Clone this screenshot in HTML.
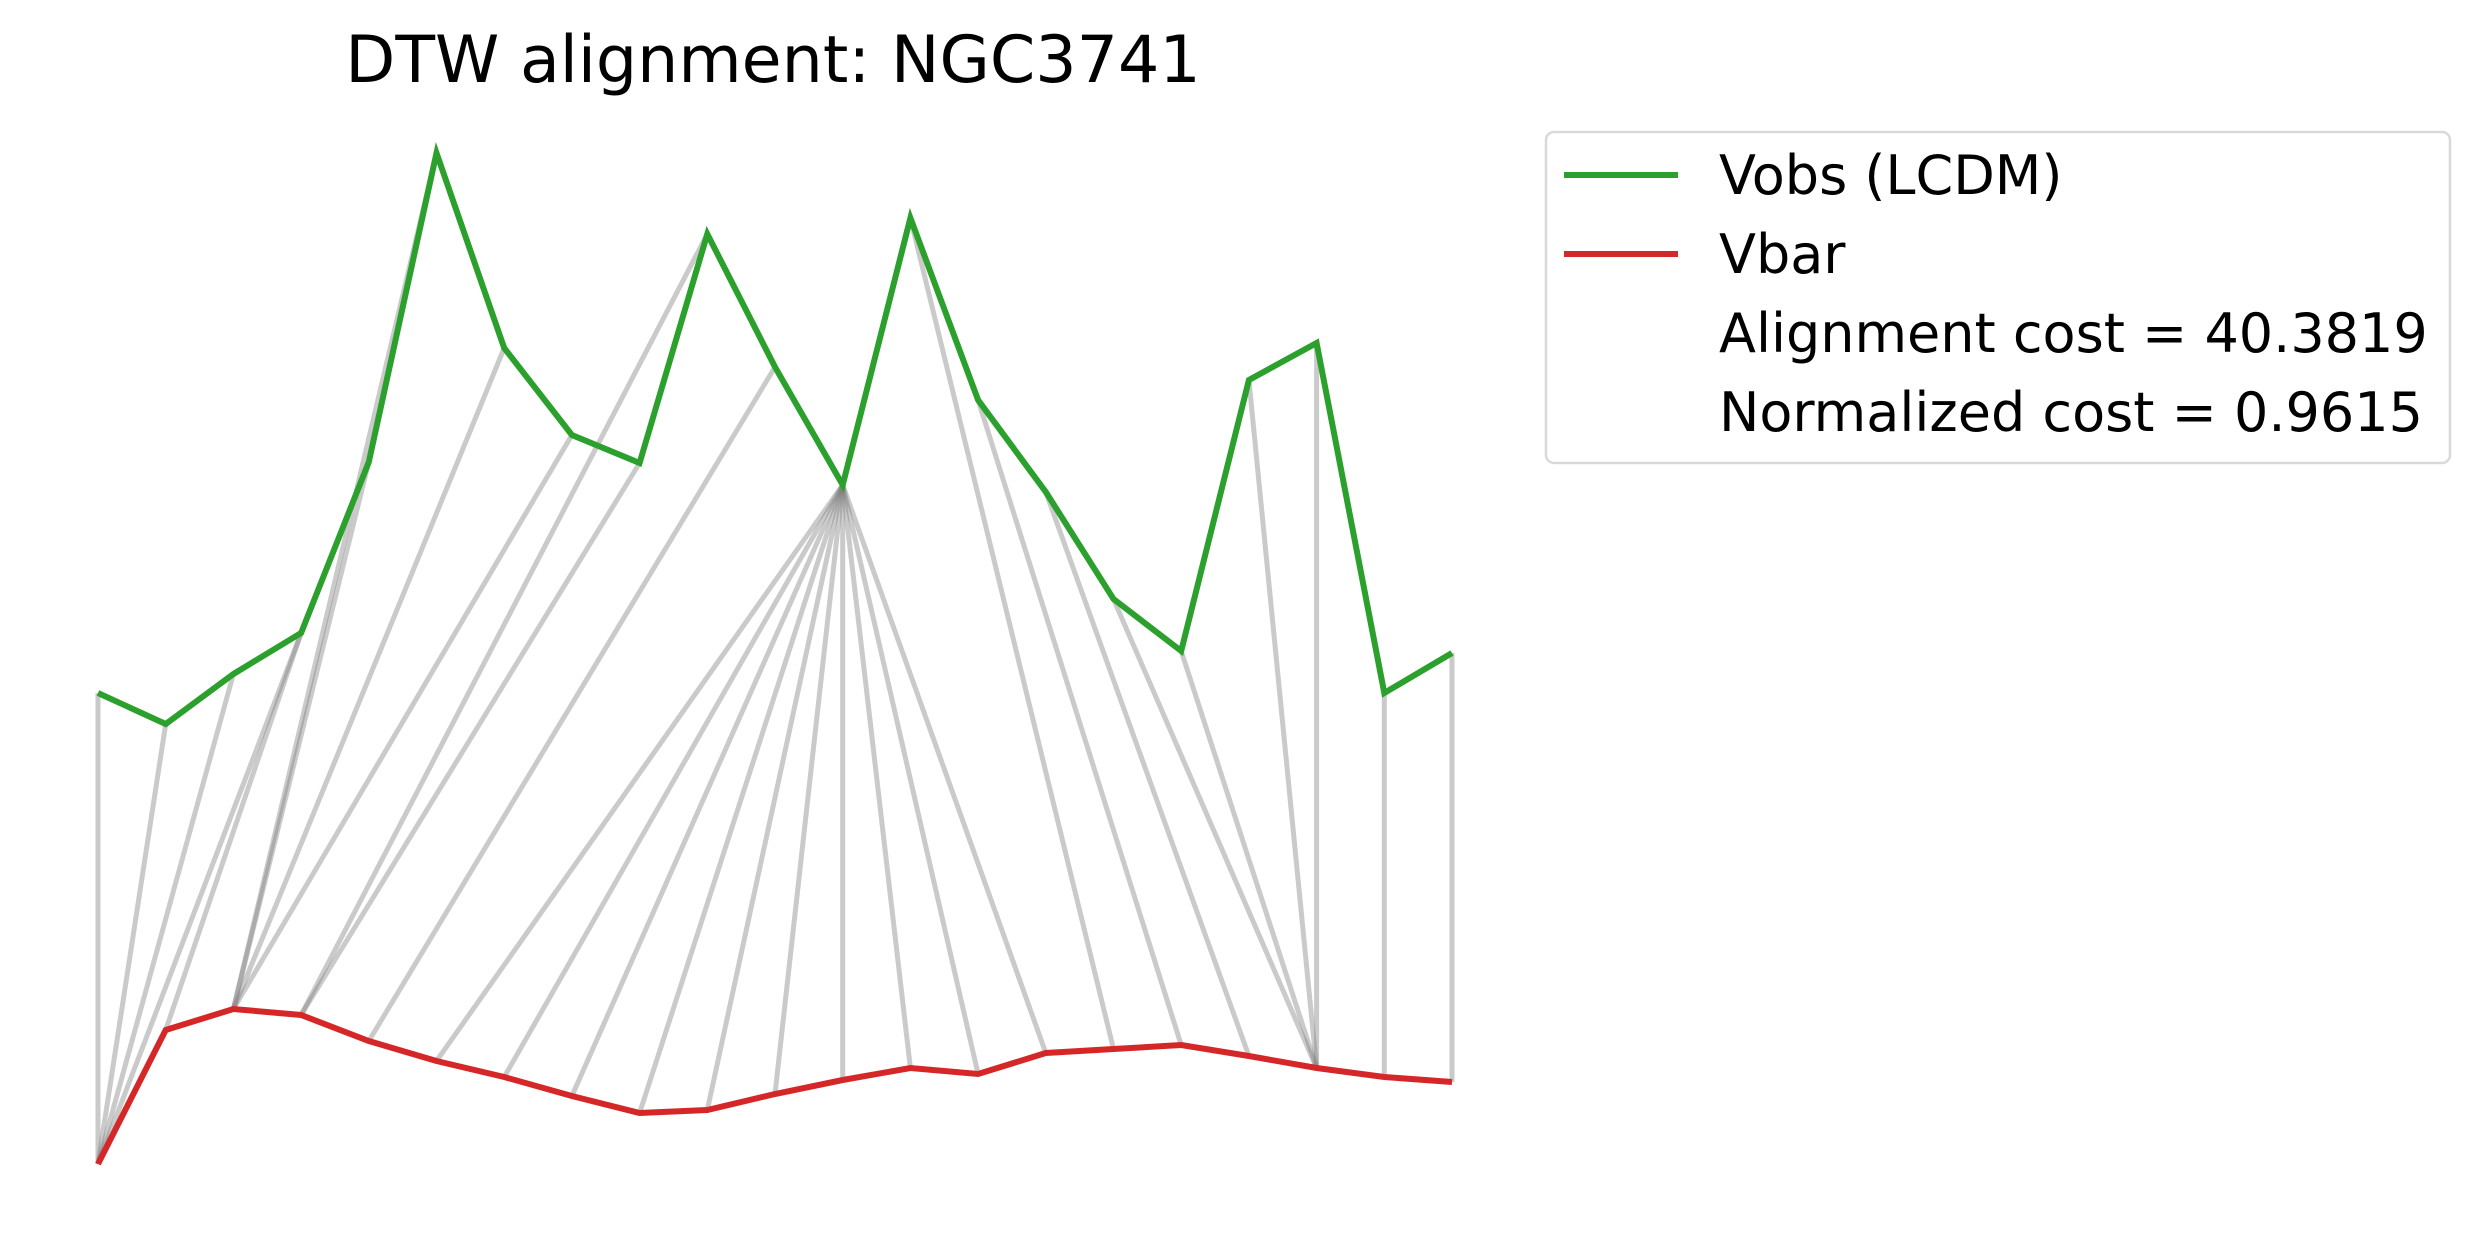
<!DOCTYPE html>
<html>
<head>
<meta charset="utf-8">
<style>
  html, body { margin: 0; padding: 0; background: #ffffff; }
  svg { display: block; }
  text { font-family: "DejaVu Sans", "Liberation Sans", sans-serif; fill: #000; }
</style>
</head>
<body>
<svg id="chart" width="2480" height="1243" viewBox="0 0 2480 1243" xmlns="http://www.w3.org/2000/svg">
  <rect x="0" y="0" width="2480" height="1243" fill="#ffffff"/>
  <text x="773" y="82" font-size="65" text-anchor="middle">DTW alignment: NGC3741</text>
  <g id="links"></g>
  <g id="series"></g>
  <g>
    <rect x="1546" y="132" width="904" height="331" rx="8" ry="8" fill="#ffffff" stroke="#d9d9d9" stroke-width="2.5"/>
    <line x1="1564" y1="175" x2="1678" y2="175" stroke="#2ca02c" stroke-width="6"/>
    <text x="1719" y="194" font-size="54">Vobs (LCDM)</text>
    <line x1="1564" y1="254" x2="1678" y2="254" stroke="#d62728" stroke-width="6"/>
    <text x="1719" y="273" font-size="54">Vbar</text>
    <text x="1719" y="352" font-size="54">Alignment cost = 40.3819</text>
    <text x="1719" y="431" font-size="54">Normalized cost = 0.9615</text>
  </g>
</svg>
<script>
const vobs = [55.0, 51.9, 56.9, 61.0, 78.1, 109.0, 89.5, 80.8, 78.0, 100.9, 87.6, 75.8, 102.5, 84.3, 75.1, 64.4, 59.2, 86.3, 90.0, 55.0, 59.0];
const vbar = [7.9, 21.3, 23.4, 22.8, 20.2, 18.2, 16.6, 14.7, 13.0, 13.3, 14.9, 16.3, 17.5, 16.9, 19.0, 19.4, 19.8, 18.7, 17.5, 16.6, 16.1];
const pathObs = [0, 1, 2, 3, 3, 4, 5, 6, 7, 8, 9, 10, 11, 11, 11, 11, 11, 11, 11, 11, 11, 11, 12, 13, 14, 15, 16, 17, 18, 19, 20];
const pathBar = [0, 0, 0, 0, 1, 2, 2, 2, 2, 3, 3, 4, 5, 6, 7, 8, 9, 10, 11, 12, 13, 14, 15, 16, 17, 18, 18, 18, 18, 19, 20];

const NS = "http://www.w3.org/2000/svg";
const X0 = 98, X1 = 1452;
const n = vobs.length;
function xScale(i) { return X0 + i * (X1 - X0) / (n - 1); }
function yScale(v) { return 1243 - v * 10; }

const links = document.getElementById('links');
for (let k = 0; k < pathObs.length; k++) {
  const a = pathObs[k], b = pathBar[k];
  const l = document.createElementNS(NS, 'line');
  l.setAttribute('x1', xScale(a));
  l.setAttribute('y1', yScale(vobs[a]));
  l.setAttribute('x2', xScale(b));
  l.setAttribute('y2', yScale(vbar[b]));
  l.setAttribute('stroke', '#808080');
  l.setAttribute('stroke-opacity', '0.42');
  l.setAttribute('stroke-width', '5');
  
  
  links.appendChild(l);
}

const series = document.getElementById('series');
function drawLine(vals, color, name) {
  const p = document.createElementNS(NS, 'polyline');
  p.setAttribute('points', vals.map((v, i) => xScale(i) + ',' + yScale(v)).join(' '));
  p.setAttribute('fill', 'none');
  p.setAttribute('stroke', color);
  p.setAttribute('stroke-width', '6');
  p.setAttribute('stroke-linejoin', 'miter');
  
  
  series.appendChild(p);
}
drawLine(vbar, '#d62728', 'vbar-line');
drawLine(vobs, '#2ca02c', 'vobs-line');
</script>
</body>
</html>
